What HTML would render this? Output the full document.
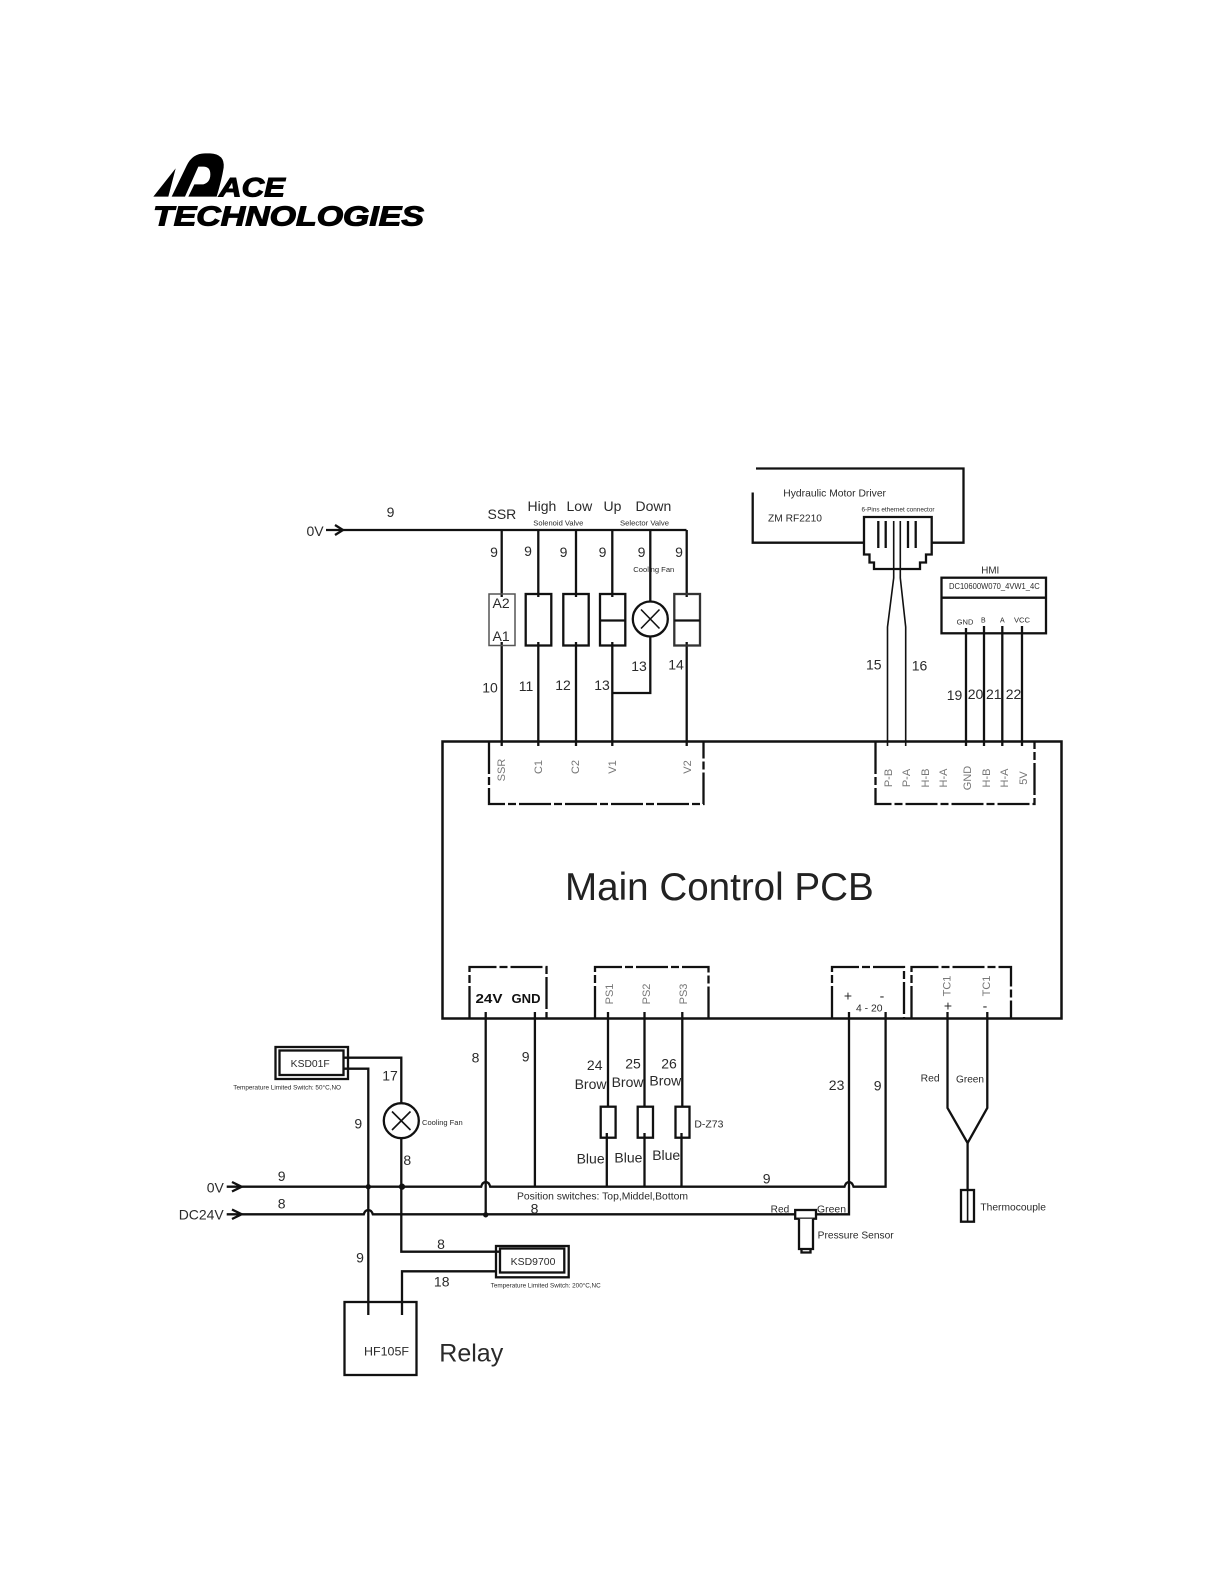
<!DOCTYPE html>
<html><head><meta charset="utf-8"><style>
html,body{margin:0;padding:0;background:#fff}
svg{display:block;filter:blur(.35px)}
text{font-family:"Liberation Sans",sans-serif;fill:#2a2a2a}
.n{font-size:14px}
.m{text-anchor:middle}
.g{font-size:11px;fill:#777;text-anchor:middle}
.s{font-size:10px}
.t{font-size:6px}
path,line,rect,circle{fill:none;stroke:#111;stroke-width:2.3}
.th{stroke-width:1.6}
.d{stroke-dasharray:32 3 8 3}
</style></head><body>
<svg width="1224" height="1584" viewBox="0 0 1224 1584" xmlns="http://www.w3.org/2000/svg">
<!-- logo -->
<g transform="translate(145 145) scale(.3333)">
<path style="fill:#000;stroke:none" d="M25 155L92 70L70 155Z"/>
<path style="fill:#000;stroke:none;fill-rule:evenodd" d="M80 155L125 62Q142 25 180 25H195Q240 27 236 68Q230 105 215 155H130L148 118H175Q196 112 196 88Q196 65 175 65H160L120 155Z"/>
</g>
<text x="219" y="196.500" style="font-size:27px;font-weight:bold;font-style:italic;fill:#000;stroke:#000;stroke-width:1" textLength="66" lengthAdjust="spacingAndGlyphs">ACE</text>
<text x="153" y="225.500" style="font-size:28px;font-weight:bold;font-style:italic;fill:#000;stroke:#000;stroke-width:1.1" textLength="271" lengthAdjust="spacingAndGlyphs">TECHNOLOGIES</text>

<!-- PCB -->
<rect x="442.500" y="741.500" width="619" height="277" style="stroke-width:2.500"/>
<text x="565" y="900" style="font-size:38.600px;fill:#222">Main Control PCB</text>

<!-- top connector boxes -->
<path class="d" d="M489 742V804H703.500V742"/>
<path class="d" d="M875.500 742V804H1034.500V742"/>
<!-- bottom connector boxes -->
<path class="d" d="M469.500 1018V967H546.500V1018"/>
<path class="d" d="M595 1018V967H708.500V1018"/>
<path class="d" d="M832 1018V967H904V1018"/>
<path class="d" d="M911.500 1018V967H1011V1018"/>

<!-- 0V top bus -->
<path d="M326 530H686.500"/>
<path d="M335 525L343 530L335 535"/>
<path d="M501.700 530V597M538.300 530V597M576 530V597M612.300 530V597M686.700 530V597M650.300 530V601"/>
<path d="M501.700 642V746M538.300 642V746M576 642V746M612.300 642V746M686.700 642V746"/>
<path d="M650.300 637V693H612.300"/>
<rect x="489" y="594" width="26" height="51.500" style="stroke:#555;stroke-width:1.500"/>
<rect x="525.700" y="594" width="25.600" height="51.500"/>
<rect x="563.300" y="594" width="25.400" height="51.500"/>
<rect x="600" y="594" width="25.300" height="51.500"/>
<path d="M600 620.500H625.300"/>
<rect x="674.300" y="594" width="25.700" height="51.500" style="stroke:#333"/>
<path d="M674.300 620.500H700"/>
<circle cx="650.300" cy="619" r="17.500"/>
<path class="th" d="M641 609.500L659.500 628.500M659.500 609.500L641 628.500"/>

<text x="306.500" y="536" class="n" fill="#333">0V</text>
<text x="390.500" y="517" class="n m">9</text>
<text x="487.500" y="519" class="n">SSR</text>
<text x="527.500" y="511" class="n">High</text>
<text x="566.500" y="511" class="n">Low</text>
<text x="603.500" y="511" class="n">Up</text>
<text x="635.500" y="511" class="n">Down</text>
<text x="533.300" y="525.300" class="t" textLength="50" lengthAdjust="spacingAndGlyphs" style="font-size:7px">Solenoid Valve</text>
<text x="620" y="525.300" class="t" textLength="49" lengthAdjust="spacingAndGlyphs" style="font-size:7px">Selector Valve</text>
<text x="494" y="557" class="n m">9</text><text x="528" y="556" class="n m">9</text><text x="563.500" y="557" class="n m">9</text><text x="602.500" y="557" class="n m">9</text><text x="641.500" y="557" class="n m">9</text><text x="679" y="557" class="n m">9</text>
<text x="633.300" y="572" textLength="41" lengthAdjust="spacingAndGlyphs" style="font-size:7.500px">Cooling Fan</text>
<text x="492.500" y="608" class="n">A2</text><text x="492.500" y="641" class="n">A1</text>
<text x="490" y="692.500" class="n m">10</text><text x="526" y="691" class="n m">11</text><text x="563" y="690" class="n m">12</text><text x="602" y="690" class="n m">13</text><text x="639" y="671" class="n m">13</text><text x="676" y="669.500" class="n m">14</text>
<text class="g" transform="translate(505 770) rotate(-90)">SSR</text>
<text class="g" transform="translate(542 767) rotate(-90)">C1</text>
<text class="g" transform="translate(579 767) rotate(-90)">C2</text>
<text class="g" transform="translate(616 767) rotate(-90)">V1</text>
<text class="g" transform="translate(691 767) rotate(-90)">V2</text>

<!-- hydraulic driver -->
<path d="M756 468.500H963.500V542.700H931.700M864 542.700H752.700V492.500"/>
<path d="M864 517H931.700V554.500H926V562.500H920V569H874V562.500H869.500V554.500H864Z"/>
<path d="M878.300 521V548M885.700 521V548M908 521V548M915.700 521V548"/>
<path d="M893.700 521V578L887.500 627V746M900.300 521V578L905.700 627V746" class="th"/>
<text x="783.300" y="496.700" textLength="102.700" lengthAdjust="spacingAndGlyphs" style="font-size:10.500px">Hydraulic Motor Driver</text>
<text x="768" y="521.700" textLength="54" lengthAdjust="spacingAndGlyphs" style="font-size:10.500px">ZM RF2210</text>
<text x="861.500" y="511.500" class="t" textLength="73" lengthAdjust="spacingAndGlyphs">6-Pins ethernet connector</text>

<!-- HMI -->
<rect x="941.500" y="577.700" width="104.500" height="55.600"/>
<path d="M941.500 597.700H1046"/>
<path d="M966 628V746M984 626V746M1002.300 626V746M1022 626V746"/>
<text x="981.300" y="573.300" textLength="18" lengthAdjust="spacingAndGlyphs" style="font-size:10px">HMI</text>
<text x="949" y="589" textLength="90.700" lengthAdjust="spacingAndGlyphs" style="font-size:8px">DC10600W070_4VW1_4C</text>
<text x="956.700" y="624.300" textLength="16.700" lengthAdjust="spacingAndGlyphs" style="font-size:7px">GND</text>
<text x="981" y="622.300" style="font-size:7px">B</text>
<text x="1000" y="622.300" style="font-size:7px">A</text>
<text x="1014" y="622.300" textLength="16" lengthAdjust="spacingAndGlyphs" style="font-size:7px">VCC</text>
<text x="866" y="669.300" class="n">15</text><text x="911.700" y="670.300" class="n">16</text>
<text x="946.700" y="700" class="n">19</text><text x="967.700" y="699" class="n">20</text><text x="986" y="699" class="n">21</text><text x="1005.700" y="699" class="n">22</text>
<text class="g" transform="translate(892 778) rotate(-90)">P-B</text>
<text class="g" transform="translate(910 778) rotate(-90)">P-A</text>
<text class="g" transform="translate(929 778) rotate(-90)">H-B</text>
<text class="g" transform="translate(947 778) rotate(-90)">H-A</text>
<text class="g" transform="translate(971 778) rotate(-90)">GND</text>
<text class="g" transform="translate(990 778) rotate(-90)">H-B</text>
<text class="g" transform="translate(1008 778) rotate(-90)">H-A</text>
<text class="g" transform="translate(1027 778) rotate(-90)">5V</text>

<!-- bottom connector labels -->
<text x="475.500" y="1003" textLength="27" lengthAdjust="spacingAndGlyphs" style="font-size:13px;font-weight:bold;fill:#111">24V</text>
<text x="511.500" y="1003" textLength="29" lengthAdjust="spacingAndGlyphs" style="font-size:13px;font-weight:bold;fill:#111">GND</text>
<text class="g" transform="translate(613 994) rotate(-90)">PS1</text>
<text class="g" transform="translate(650 994) rotate(-90)">PS2</text>
<text class="g" transform="translate(687 994) rotate(-90)">PS3</text>
<text x="848" y="1000.700" class="n m">+</text><text x="882" y="1000.700" class="n m">-</text>
<text x="856" y="1011.300" textLength="26.500" lengthAdjust="spacingAndGlyphs" style="font-size:10px">4 - 20</text>
<text class="g" transform="translate(950.500 986) rotate(-90)">TC1</text>
<text class="g" transform="translate(990 986) rotate(-90)">TC1</text>
<text x="948" y="1010.700" class="n m">+</text><text x="985" y="1010.700" class="n m">-</text>

<!-- bottom wires -->
<path d="M485.700 1012V1214.300"/>
<path d="M534.900 1012V1186.700"/>
<path d="M608 1012V1107M644.500 1012V1107M682.300 1012V1107"/>
<path d="M606.800 1133V1186.700M644.500 1133V1186.700M681.500 1133V1186.700"/>
<rect x="600.700" y="1106.700" width="14.900" height="31"/>
<rect x="637.700" y="1106.700" width="15.300" height="31"/>
<rect x="675.500" y="1106.700" width="14" height="31"/>
<!-- 0V bus with hops -->
<path d="M226.700 1186.700H481.200Q482.500 1182 485.700 1182Q489 1182 490.200 1186.700H844.500Q846 1182 849 1182Q852 1182 853.500 1186.700H885.600V1012"/>
<path d="M232 1182L241.700 1186.700L232 1191.500"/>
<!-- DC24V with hop -->
<path d="M226.700 1214.300H363.800Q365 1210 368.300 1210Q371.500 1210 372.800 1214.300H849V1012"/>
<path d="M232 1209.500L241.700 1214.300L232 1219"/>
<circle cx="368.300" cy="1186.700" r="1.500" style="fill:#111"/>
<circle cx="402" cy="1186.700" r="2" style="fill:#111"/>
<circle cx="485.700" cy="1214.800" r="1.500" style="fill:#111"/>
<!-- pressure sensor -->
<rect x="795.200" y="1210" width="20.800" height="8.700" style="fill:#fff"/>
<path d="M799 1218.700V1249H813V1218.700M801.500 1249V1252.500H810.500V1249" style="fill:#fff"/>
<!-- thermocouple -->
<path d="M947.500 1012V1108L967.600 1143L987.300 1108V1012"/>
<path d="M967.600 1143V1190"/>
<rect x="961" y="1190" width="13" height="31.700"/>
<path class="th" d="M967.600 1190V1221.700"/>

<text x="475.500" y="1062.700" class="n m">8</text><text x="525.600" y="1061.700" class="n m">9</text>
<text x="594.700" y="1070" class="n m">24</text><text x="633" y="1068.300" class="n m">25</text><text x="669" y="1068.300" class="n m">26</text>
<text x="574.600" y="1089" class="n">Brow</text><text x="611.600" y="1087" class="n">Brow</text><text x="649.400" y="1085.300" class="n">Brow</text>
<text x="576.600" y="1163.300" class="n">Blue</text><text x="614.400" y="1162.300" class="n">Blue</text><text x="652.200" y="1160" class="n">Blue</text>
<text x="694.400" y="1127.300" textLength="29" lengthAdjust="spacingAndGlyphs" style="font-size:10px">D-Z73</text>
<text x="836.600" y="1090" class="n m">23</text><text x="877.600" y="1090.700" class="n m">9</text>
<text x="766.700" y="1183.300" class="n m">9</text>
<text x="517" y="1199.300" textLength="171" lengthAdjust="spacingAndGlyphs" style="font-size:10.500px">Position switches: Top,Middel,Bottom</text>
<text x="534.500" y="1213.300" class="n m">8</text>
<text x="770.700" y="1212.300" textLength="18.500" lengthAdjust="spacingAndGlyphs" style="font-size:10px">Red</text>
<text x="817" y="1212.300" textLength="29" lengthAdjust="spacingAndGlyphs" style="font-size:10px">Green</text>
<text x="817.700" y="1238.300" textLength="76" lengthAdjust="spacingAndGlyphs" style="font-size:10px">Pressure Sensor</text>
<text x="920.600" y="1081.700" textLength="19" lengthAdjust="spacingAndGlyphs" style="font-size:10px">Red</text>
<text x="956" y="1082.700" textLength="28" lengthAdjust="spacingAndGlyphs" style="font-size:10px">Green</text>
<text x="980.400" y="1210.700" textLength="65.500" lengthAdjust="spacingAndGlyphs" style="font-size:10px">Thermocouple</text>

<!-- left side -->
<rect x="275.500" y="1047" width="72.500" height="32"/>
<rect x="279.500" y="1050.500" width="64" height="24.500"/>
<path d="M343.700 1057.700H401.300V1103"/>
<circle cx="401.300" cy="1120.700" r="17.500"/>
<path class="th" d="M392 1111.500L410.500 1130M410.500 1111.500L392 1130"/>
<path d="M401.300 1138V1251.700H500"/>
<path d="M343.700 1068.700H368.300V1315"/>
<rect x="496" y="1246" width="72.700" height="31.300"/>
<rect x="500" y="1248.500" width="64.300" height="24"/>
<path d="M496 1271.300H402V1315"/>
<rect x="344.500" y="1302" width="72" height="73"/>
<text x="290.700" y="1067" textLength="39" lengthAdjust="spacingAndGlyphs" style="font-size:10px">KSD01F</text>
<text x="233.300" y="1089.700" class="t" textLength="107.700" lengthAdjust="spacingAndGlyphs">Temperature Limited Switch: 50°C,NO</text>
<text x="390" y="1080.300" class="n m">17</text>
<text x="358.300" y="1128.300" class="n m">9</text>
<text x="422" y="1125" textLength="40.700" lengthAdjust="spacingAndGlyphs" style="font-size:7.500px">Cooling Fan</text>
<text x="407.300" y="1165" class="n m">8</text>
<text x="206.700" y="1192.700" class="n">0V</text>
<text x="281.700" y="1181" class="n m">9</text>
<text x="178.700" y="1219.300" class="n" textLength="45" lengthAdjust="spacingAndGlyphs">DC24V</text>
<text x="281.700" y="1208.700" class="n m">8</text>
<text x="360" y="1262.300" class="n m">9</text>
<text x="441" y="1249" class="n m">8</text>
<text x="441.700" y="1286.700" class="n m">18</text>
<text x="510.700" y="1265" textLength="44.700" lengthAdjust="spacingAndGlyphs" style="font-size:10px">KSD9700</text>
<text x="490.700" y="1287.300" class="t" textLength="110" lengthAdjust="spacingAndGlyphs">Temperature Limited Switch: 200°C,NC</text>
<text x="364" y="1355.700" textLength="45" lengthAdjust="spacingAndGlyphs" style="font-size:12px">HF105F</text>
<text x="439.300" y="1361.700" style="font-size:25px">Relay</text>
</svg>
</body></html>
